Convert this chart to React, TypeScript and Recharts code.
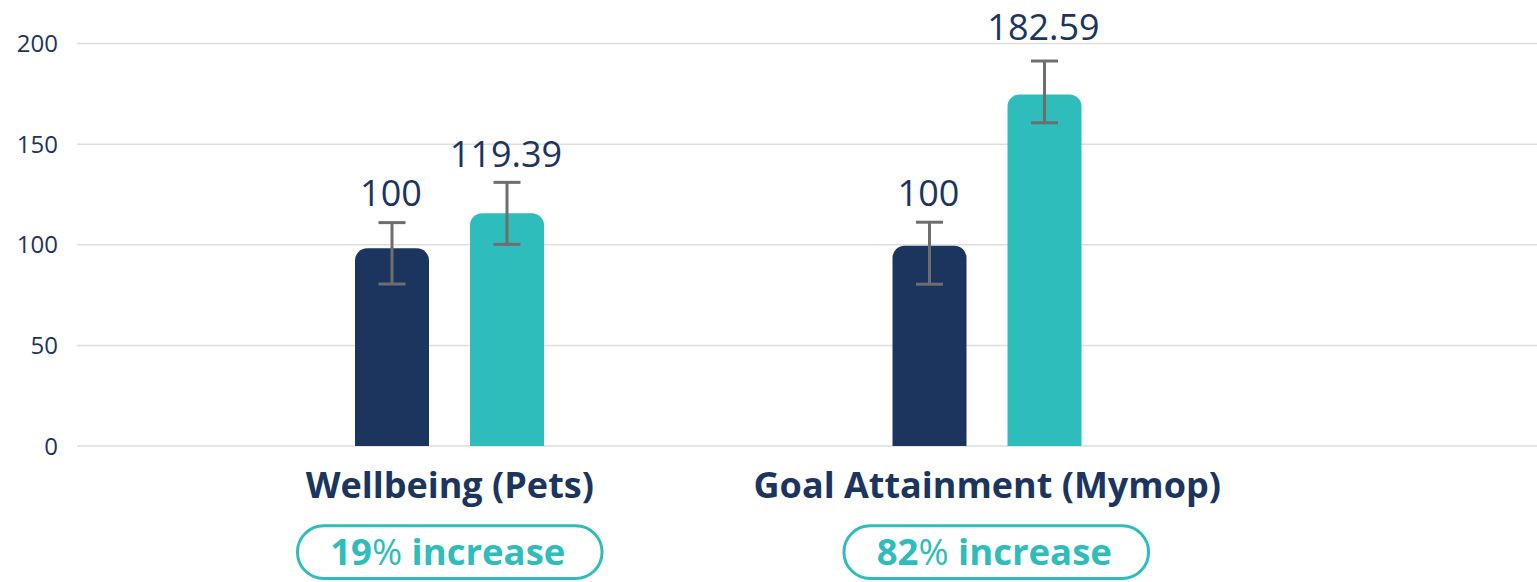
import React from 'react';
import { BarChart, Bar, XAxis, YAxis, CartesianGrid, ErrorBar, LabelList } from 'recharts';

const categories = ['Wellbeing (Pets)', 'Goal Attainment (Mymop)'];
const baselineValues = [98.2, 99.5];
const interventionValues = [115.6, 174.7];
const baselineLabels = ['100', '100'];
const baselineLabelValues = [100, 100];
const interventionLabels = ['119.39', '182.59'];
const interventionLabelValues = [119.39, 182.59];
const baselineErrLow = [80.5, 80.4];
const baselineErrHigh = [111.0, 111.2];
const interventionErrLow = [100.2, 160.6];
const interventionErrHigh = [131.0, 191.3];
const increasePercents = ['19', '82'];
const yTicks = [0, 50, 100, 150, 200];

const NAVY = '#1c355e';
const TEAL = '#2ebdbb';
const GRID = '#dedede';
const ERR = '#6e6e6e';
const FONT = '"Open Sans", sans-serif';

const pillShift = [0, 9];

const data = categories.map((name, i) => ({
  name,
  baseline: baselineValues[i],
  intervention: interventionValues[i],
  baselineErr: [baselineValues[i] - baselineErrLow[i], baselineErrHigh[i] - baselineValues[i]],
  interventionErr: [interventionValues[i] - interventionErrLow[i], interventionErrHigh[i] - interventionValues[i]],
}));

const makeLabel = (values: number[], labelValues: number[], labels: string[]) => (props: any) => {
  const { x, y, width, height, index } = props;
  const base = Number(y) + Number(height);
  const ppu = Number(height) / values[index];
  const ly = base - labelValues[index] * ppu - 39;
  return (
    <text x={Number(x) + Number(width) / 2 - 1} y={ly} textAnchor="middle" fill={NAVY} fontSize={36} fontFamily={FONT}>
      {labels[index]}
    </text>
  );
};

const CategoryTick = (props: any) => {
  const { x, y, payload, index } = props;
  const cx = Number(x);
  const top = Number(y);
  const pc = cx + pillShift[index];
  return (
    <g>
      <text x={cx} y={top + 51.7} textAnchor="middle" fill={NAVY} fontSize={36} fontWeight={700} fontFamily={FONT}>
        {payload.value}
      </text>
      <rect x={pc - 152.3} y={top + 79.8} width={304.6} height={52.7} rx={26.3} ry={26.3} fill="none" stroke={TEAL} strokeWidth={3} />
      <text x={pc - 2} y={top + 119} textAnchor="middle" fill={TEAL} fontSize={36.5} fontFamily={FONT}>
        <tspan fontWeight={700}>{increasePercents[index]}</tspan>
        <tspan fontWeight={400}>%</tspan>
        <tspan fontWeight={700}> increase</tspan>
      </text>
    </g>
  );
};

export default function App() {
  return (
    <div style={{ position: 'absolute', left: 0, top: 0, width: 1537, height: 582, background: '#fff' }}>
      <BarChart
        width={1537}
        height={582}
        data={data}
        margin={{ top: 43.5, right: 0, bottom: 0, left: 0 }}
        barSize={74}
        barGap={41}
      >
        <CartesianGrid horizontal vertical={false} stroke={GRID} strokeWidth={1.5} />
        <XAxis
          dataKey="name"
          height={136}
          tickLine={false}
          axisLine={false}
          tickSize={0}
          tickMargin={0}
          padding={{ left: 104, right: 281 }}
          tick={<CategoryTick />}
          interval={0}
        />
        <YAxis
          domain={[0, 200]}
          ticks={yTicks}
          width={77}
          tickLine={false}
          axisLine={false}
          tickSize={6}
          tickMargin={13}
          tick={{ fill: NAVY, fontSize: 24, fontFamily: FONT }}
        />
        <Bar dataKey="baseline" fill={NAVY} radius={[12, 12, 0, 0]} isAnimationActive={false}>
          <ErrorBar dataKey="baselineErr" width={13.5} strokeWidth={3} stroke={ERR} direction="y" />
          <LabelList dataKey="baseline" content={makeLabel(baselineValues, baselineLabelValues, baselineLabels)} />
        </Bar>
        <Bar dataKey="intervention" fill={TEAL} radius={[12, 12, 0, 0]} isAnimationActive={false}>
          <ErrorBar dataKey="interventionErr" width={13.5} strokeWidth={3} stroke={ERR} direction="y" />
          <LabelList dataKey="intervention" content={makeLabel(interventionValues, interventionLabelValues, interventionLabels)} />
        </Bar>
      </BarChart>
    </div>
  );
}
